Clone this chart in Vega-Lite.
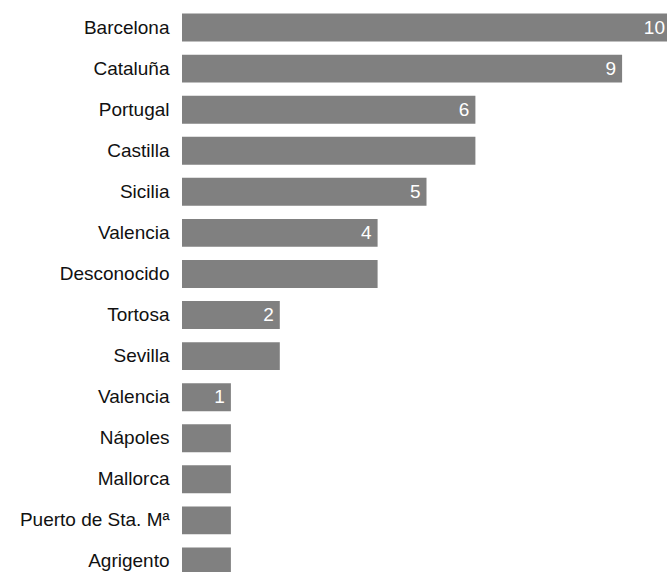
{
  "$schema": "https://vega.github.io/schema/vega-lite/v6.json",
  "autosize": {"type": "none"},
  "padding": {"left": 182, "top": 7, "right": 0, "bottom": 0},
  "width": 489,
  "height": 575,
  "background": "white",
  "config": {"view": {"stroke": null}, "font": "Liberation Sans"},
  "data": {
    "values": [
      {"order": 1, "region": "Barcelona", "value": 10, "label": "10"},
      {"order": 2, "region": "Cataluña", "value": 9, "label": "9"},
      {"order": 3, "region": "Portugal", "value": 6, "label": "6"},
      {"order": 4, "region": "Castilla", "value": 6, "label": ""},
      {"order": 5, "region": "Sicilia", "value": 5, "label": "5"},
      {"order": 6, "region": "Valencia", "value": 4, "label": "4"},
      {"order": 7, "region": "Desconocido", "value": 4, "label": ""},
      {"order": 8, "region": "Tortosa", "value": 2, "label": "2"},
      {"order": 9, "region": "Sevilla", "value": 2, "label": ""},
      {"order": 10, "region": "Valencia\u200b", "value": 1, "label": "1"},
      {"order": 11, "region": "Nápoles", "value": 1, "label": ""},
      {"order": 12, "region": "Mallorca", "value": 1, "label": ""},
      {"order": 13, "region": "Puerto de Sta. Mª", "value": 1, "label": ""},
      {"order": 14, "region": "Agrigento", "value": 1, "label": ""}
    ]
  },
  "encoding": {
    "y": {
      "field": "region",
      "type": "nominal",
      "sort": {"field": "order", "order": "ascending"},
      "scale": {"paddingInner": 0.32, "paddingOuter": 0.16},
      "axis": {
        "title": null,
        "domain": false,
        "ticks": false,
        "labelPadding": 13,
        "labelFontSize": 19,
        "labelColor": "#111111",
        "labelFont": "Liberation Sans"
      }
    },
    "x": {
      "field": "value",
      "type": "quantitative",
      "scale": {"domain": [0, 10], "nice": false},
      "axis": null
    }
  },
  "layer": [
    {"mark": {"type": "bar", "color": "#808080"}},
    {
      "mark": {"type": "text", "align": "right", "baseline": "middle", "dx": -6, "color": "#ffffff", "fontSize": 19, "font": "Liberation Sans"},
      "encoding": {"text": {"field": "label"}}
    }
  ]
}
